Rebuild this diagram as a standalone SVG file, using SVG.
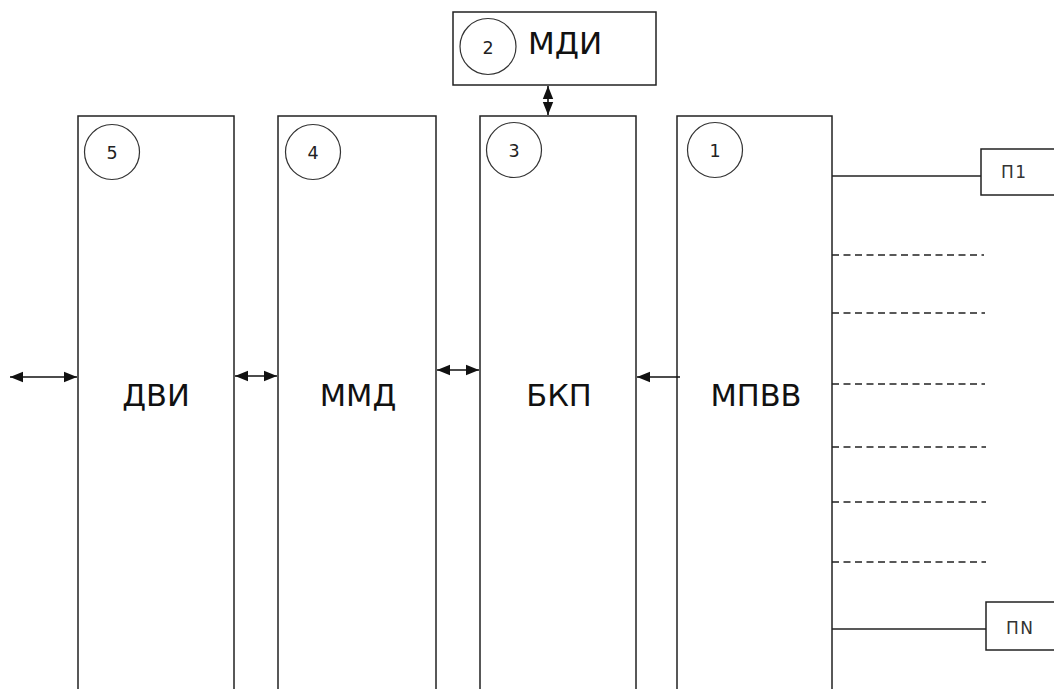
<svg xmlns="http://www.w3.org/2000/svg" width="1054" height="689" viewBox="0 0 1054 689">
  <defs>
    <marker id="arrow" markerUnits="userSpaceOnUse" markerWidth="14" markerHeight="14" viewBox="0 0 14 14" refX="13" refY="7" orient="auto-start-reverse">
      <path d="M0,1.8 L13,7 L0,12.2 Z" fill="#111"/>
    </marker>
  </defs>
  <style>
    .box { fill: #fff; stroke: #222; stroke-width: 1.5; }
    .badge { fill: none; stroke: #333; stroke-width: 1.2; }
    .num { font-family: "DejaVu Sans", Verdana, sans-serif; font-size: 17.5px; fill: #222; text-anchor: middle; }
    .label { font-family: "DejaVu Sans", Verdana, sans-serif; font-size: 30.5px; fill: #111; text-anchor: middle; }
    .port { font-family: "DejaVu Sans", Verdana, sans-serif; font-size: 17px; fill: #333; letter-spacing: 1.5px; }
    .link { stroke: #111; stroke-width: 1.6; fill: none; }
    .bus { stroke: #222; stroke-width: 1.5; fill: none; }
    .dash { stroke: #222; stroke-width: 1.5; stroke-dasharray: 7 4.5; fill: none; }
  </style>

  <!-- module 2: MDI -->
  <g id="node-mdi">
    <rect class="box" x="453" y="12" width="203" height="73"/>
    <circle class="badge" cx="488" cy="46.5" r="28"/>
    <text class="num" x="488" y="54">2</text>
    <text x="528" y="54" font-family="DejaVu Sans, Verdana, sans-serif" font-size="31" fill="#111">МДИ</text>
  </g>

  <!-- module 5: DVI -->
  <g id="node-dvi">
    <rect class="box" x="78" y="116" width="156" height="620"/>
    <circle class="badge" cx="112" cy="152" r="27.5"/>
    <text class="num" x="112" y="159">5</text>
    <text class="label" x="156" y="406">ДВИ</text>
  </g>

  <!-- module 4: MMD -->
  <g id="node-mmd">
    <rect class="box" x="278" y="116" width="158" height="620"/>
    <circle class="badge" cx="313" cy="152" r="27.5"/>
    <text class="num" x="313" y="159">4</text>
    <text class="label" x="358" y="406">ММД</text>
  </g>

  <!-- module 3: BKP -->
  <g id="node-bkp">
    <rect class="box" x="480" y="116" width="156" height="620"/>
    <circle class="badge" cx="514" cy="150" r="27.5"/>
    <text class="num" x="514" y="157">3</text>
    <text class="label" x="559" y="406">БКП</text>
  </g>

  <!-- module 1: MPVV -->
  <g id="node-mpvv">
    <rect class="box" x="677" y="116" width="155" height="620"/>
    <circle class="badge" cx="715" cy="150" r="27.5"/>
    <text class="num" x="715" y="157">1</text>
    <text class="label" x="756" y="406">МПВВ</text>
  </g>

  <!-- peripheral P1 -->
  <g id="node-p1">
    <rect class="box" x="981" y="149" width="90" height="46"/>
    <text class="port" x="1001" y="178">П1</text>
  </g>

  <!-- peripheral PN -->
  <g id="node-pn">
    <rect class="box" x="986" y="602" width="90" height="48"/>
    <text class="port" x="1006" y="634">ПN</text>
  </g>

  <!-- connectors -->
  <g id="connectors">
    <line class="link" x1="548" y1="86" x2="548" y2="115" marker-start="url(#arrow)" marker-end="url(#arrow)"/>
    <line class="link" x1="10" y1="377" x2="77" y2="377" marker-start="url(#arrow)" marker-end="url(#arrow)"/>
    <line class="link" x1="235" y1="376" x2="277" y2="376" marker-start="url(#arrow)" marker-end="url(#arrow)"/>
    <line class="link" x1="437" y1="370" x2="479" y2="370" marker-start="url(#arrow)" marker-end="url(#arrow)"/>
    <line class="link" x1="680" y1="377" x2="637" y2="377" marker-end="url(#arrow)"/>

    <line class="bus" x1="832" y1="176" x2="981" y2="176"/>
    <line class="bus" x1="832" y1="629" x2="986" y2="629"/>

    <line class="dash" x1="832" y1="255" x2="984" y2="255"/>
    <line class="dash" x1="832" y1="313" x2="985" y2="313"/>
    <line class="dash" x1="832" y1="384" x2="985" y2="384"/>
    <line class="dash" x1="832" y1="447" x2="986" y2="447"/>
    <line class="dash" x1="832" y1="502" x2="986" y2="502"/>
    <line class="dash" x1="832" y1="562" x2="986" y2="562"/>
  </g>
</svg>
